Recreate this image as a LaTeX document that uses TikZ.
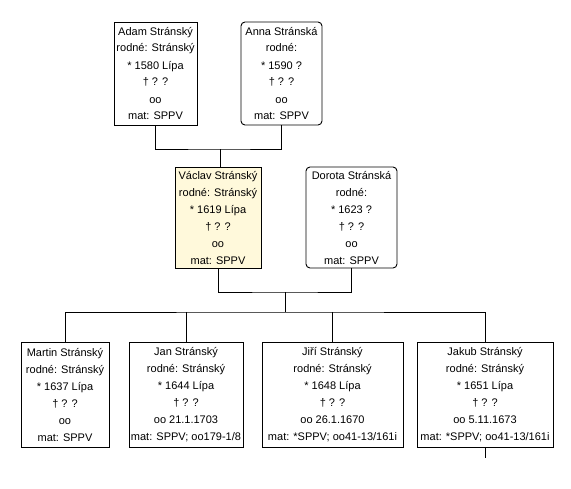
\documentclass[tikz,border=0pt]{standalone}
\usepackage{fontspec}
\setmainfont{Liberation Sans}
\definecolor{selfill}{RGB}{255,249,219}
\begin{document}
\begin{tikzpicture}[x=1pt,y=-1pt,
  person/.style={draw=black,line width=0.9pt,inner sep=0pt,outer sep=0pt,align=center,anchor=north west,
    font=\fontsize{11}{17}\selectfont},
  woman/.style={person,rounded corners=4pt},
  conn/.style={draw=black,line width=0.9pt}]
\useasboundingbox (0,0) rectangle (571,488);
\newcommand{\dg}{\dag{} ? ?\hspace{14pt}}
\node[person,minimum width=83pt,minimum height=103pt] (adam) at (114,22)
  {Adam Stránský\\rodné: Stránský\\* 1580 Lípa\\\dg\\oo\\mat: SPPV};
\node[woman,minimum width=81pt,minimum height=103pt] (anna) at (241,22)
  {Anna Stránská\\rodné:\\* 1590 ?\\\dg\\oo\\mat: SPPV};
\node[person,fill=selfill,minimum width=86pt,minimum height=101pt] (vaclav) at (175,167)
  {Václav Stránský\\rodné: Stránský\\* 1619 Lípa\\\dg\\oo\\mat: SPPV};
\node[woman,minimum width=91pt,minimum height=101pt] (dorota) at (306,167)
  {Dorota Stránská\\rodné:\\* 1623 ?\\\dg\\oo\\mat: SPPV};
\node[person,minimum width=88pt,minimum height=105pt] (martin) at (21,342)
  {Martin Stránský\\rodné: Stránský\\* 1637 Lípa\\\dg\\oo\\mat: SPPV};
\node[person,minimum width=114pt,minimum height=105pt] (jan) at (129,342)
  {Jan Stránský\\rodné: Stránský\\* 1644 Lípa\\\dg\\oo 21.1.1703\\mat: SPPV; oo179-1/8};
\node[person,minimum width=141pt,minimum height=105pt] (jiri) at (262,342)
  {Jiří Stránský\\rodné: Stránský\\* 1648 Lípa\\\dg\\oo 26.1.1670\\mat: *SPPV; oo41-13/161i};
\node[person,minimum width=136pt,minimum height=105pt] (jakub) at (417,342)
  {Jakub Stránský\\rodné: Stránský\\* 1651 Lípa\\\dg\\oo 5.11.1673\\mat: *SPPV; oo41-13/161i};
% parents couple
\coordinate (c1) at (220,149);
\draw[conn] (adam.south) |- (c1) -| (anna.south);
\draw[conn] (c1) -- (c1 |- vaclav.north);
% second couple
\coordinate (c2) at (285,292);
\coordinate (b2) at (285,312);
\draw[conn] (vaclav.south) |- (c2) -| (dorota.south);
\draw[conn] (c2) -- (b2);
\draw[conn] (martin.north) |- (b2) -| (jakub.north);
\draw[conn] (jan.north) -- (jan.north |- b2);
\draw[conn] (jiri.north) -- (jiri.north |- b2);
\coordinate (jk) at (485,458);
\draw[conn] (jakub.south) -- (jk);
\end{tikzpicture}
\end{document}
